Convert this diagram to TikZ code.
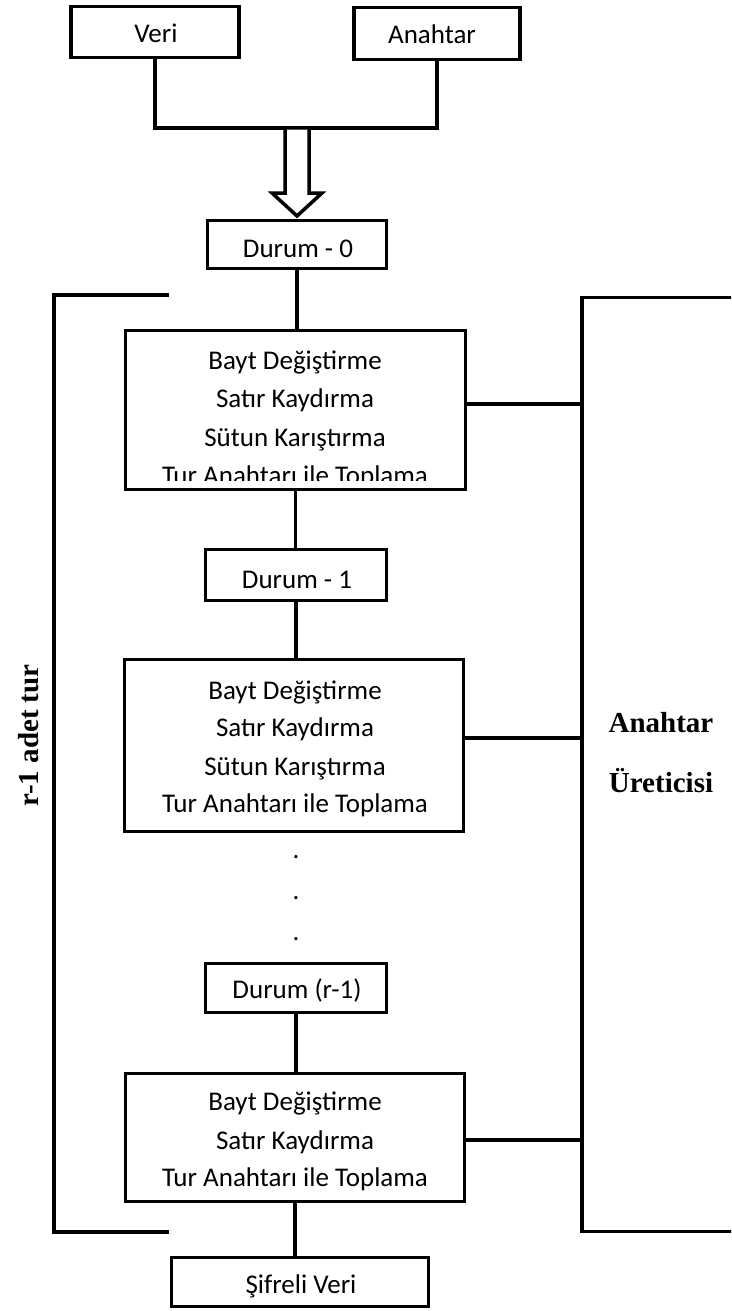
\documentclass[tikz,border=0pt]{standalone}
\usepackage{fontspec}
\setmainfont{Carlito}
\newfontfamily\headfont{Liberation Serif}
\begin{document}
\begin{tikzpicture}[x=1pt,y=-1pt,
  box/.style={draw, line width=3.5pt, rectangle, inner sep=0pt},
  wire/.style={line width=3.5pt},
  lbl/.style={font=\fontsize{27}{31}\selectfont, anchor=base, inner sep=0pt},
  side/.style={font=\headfont\bfseries\fontsize{29}{34}\selectfont, anchor=base, inner sep=0pt}
]
\useasboundingbox (0,0) rectangle (731,1311);
\clip (0,0) rectangle (731,1311);

% inputs
\node[box, minimum width=168pt, minimum height=51pt] (veri) at (155,32) {};
\node[box, minimum width=166pt, minimum height=52pt] (key) at (437,33.5) {};
\node[lbl] (tveri) at (156,43) {Veri};
\node[lbl] (tkey) at (432,44) {Anahtar};

% states and round blocks
\node[box, minimum width=179pt, minimum height=48pt] (s0) at (297,244.5) {};
\node[box, minimum width=340pt, minimum height=159pt] (r1) at (295.5,410) {};
\node[box, minimum width=181pt, minimum height=51pt] (s1) at (296,575) {};
\node[box, minimum width=339pt, minimum height=172pt] (r2) at (294,745.5) {};
\node[box, minimum width=181pt, minimum height=49pt] (sr) at (296,988) {};
\node[box, minimum width=339pt, minimum height=128pt] (r3) at (295,1137.5) {};
\node[box, minimum width=257pt, minimum height=49pt] (out) at (300,1282) {};

% key schedule box (runs past the right edge)
\node[box, minimum width=158pt, minimum height=934pt] (gen) at (661,764.5) {};

% merging the two inputs
\coordinate (merge) at (297,128);
\draw[wire, line join=miter] (veri.south) |- (merge) -| (key.south);
\draw[line width=3.5pt, fill=white, line join=miter]
  ([xshift=-12pt]merge) -- ++(0,65) -- ++(-13,0) -- ++(25,23)
  -- ++(25,-23) -- ++(-13,0) -- ++(0,-65) -- cycle;

% main chain
\draw[wire] (s0.south) -- (s0.south |- r1.north);
\draw[wire] (r1.south) -- (r1.south |- s1.north);
\draw[wire] (s1.south) -- (s1.south |- r2.north);
\draw[wire] (sr.south) -- (sr.south |- r3.north);
\draw[wire] (r3.south) -- (r3.south |- out.north);

% round keys
\draw[wire] ([yshift=6pt]r1.east) -- ([yshift=6pt]r1.east -| gen.west);
\draw[wire] ([yshift=7.5pt]r2.east) -- ([yshift=7.5pt]r2.east -| gen.west);
\draw[wire] ([yshift=-2.5pt]r3.east) -- ([yshift=-2.5pt]r3.east -| gen.west);

% bracket for the repeated rounds
\coordinate (brtop) at (169,295);
\coordinate (brbot) at (169,1232);
\draw[wire, line join=miter] (brtop) -- ++(-115,0) |- (brbot);
\node[side, rotate=90] (rounds) at (38,735.5) {r-1 adet tur};

% state labels
\node[lbl] (ts0) at (298,257) {Durum - 0};
\node[lbl] (ts1) at (297,588) {Durum - 1};
\node[lbl] (tsr) at (297,998) {Durum (r-1)};
\node[lbl] (tout) at (301,1293) {Şifreli Veri};

% first round
\node[lbl] (a1) at (295,369) {Bayt Değiştirme};
\node[lbl] (a2) at (295,407) {Satır Kaydırma};
\node[lbl] (a3) at (295,446) {Sütun Karıştırma};
\begin{scope}
  \clip (100,455) rectangle (500,480);
  \node[lbl] (a4) at (295,484) {Tur Anahtarı ile Toplama};
\end{scope}

% second round
\node[lbl] (b1) at (295,699) {Bayt Değiştirme};
\node[lbl] (b2) at (295,736) {Satır Kaydırma};
\node[lbl] (b3) at (295,775) {Sütun Karıştırma};
\node[lbl] (b4) at (295,812) {Tur Anahtarı ile Toplama};

% ellipsis
\node[lbl] (d1) at (296,858) {.};
\node[lbl] (d2) at (296,899) {.};
\node[lbl] (d3) at (296,940) {.};

% last round
\node[lbl] (c1) at (295,1110) {Bayt Değiştirme};
\node[lbl] (c2) at (295,1149) {Satır Kaydırma};
\node[lbl] (c3) at (295,1186) {Tur Anahtarı ile Toplama};

% key schedule label
\node[side] (g1) at (661,732) {Anahtar};
\node[side] (g2) at (661,792) {Üreticisi};
\end{tikzpicture}
\end{document}
